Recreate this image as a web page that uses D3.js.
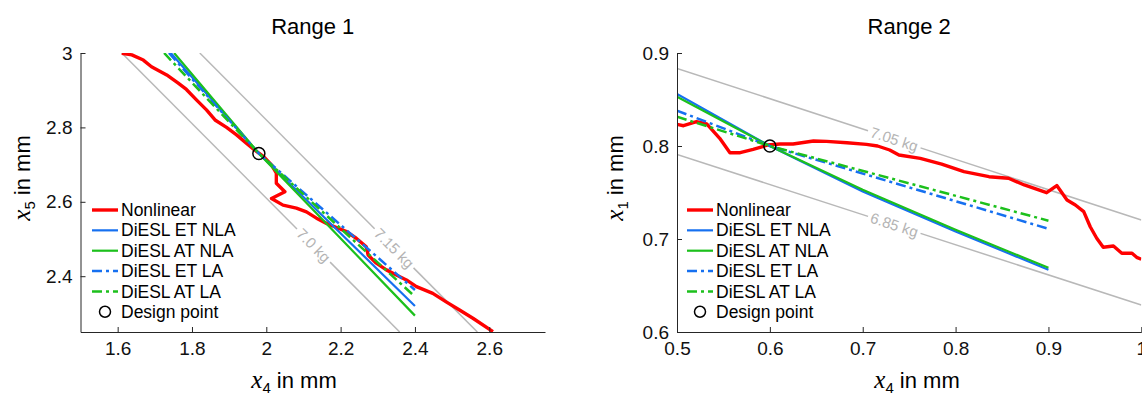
<!DOCTYPE html>
<html>
<head>
<meta charset="utf-8">
<script src="https://cdn.jsdelivr.net/npm/d3@7"></script>
<style>
body { margin: 0; background: #fff; }
svg { display: block; font-family: "Liberation Sans", Arial, sans-serif; }
</style>
</head>
<body>
<svg id="chart" width="1142" height="396"></svg>
<script>
const seriesNames = ["Nonlinear", "DiESL ET NLA", "DiESL AT NLA", "DiESL ET LA", "DiESL AT LA"];
const seriesColors = ["#ff0000", "#1670f0", "#1cc01c", "#1670f0", "#1cc01c"];
const seriesWidths = [3.4, 2.2, 2.2, 2.5, 2.5];
const seriesDash = [null, null, null, "10,4,3,4", "10,4,3,4"];

// Range 1: x4 vs x5
const r1Nonlinear = [[1.611,2.999],[1.638,2.995],[1.669,2.981],[1.691,2.963],[1.732,2.941],[1.763,2.919],[1.785,2.902],[1.812,2.874],[1.839,2.847],[1.862,2.820],[1.893,2.800],[1.920,2.780],[1.947,2.757],[1.969,2.739],[1.991,2.723],[2.014,2.699],[2.027,2.677],[2.027,2.650],[2.050,2.627],[2.014,2.609],[2.045,2.591],[2.081,2.583],[2.108,2.573],[2.135,2.556],[2.162,2.542],[2.189,2.531],[2.216,2.520],[2.242,2.502],[2.269,2.479],[2.274,2.457],[2.296,2.435],[2.323,2.417],[2.350,2.403],[2.377,2.390],[2.404,2.372],[2.448,2.354],[2.484,2.331],[2.520,2.309],[2.556,2.287],[2.610,2.251]];
const r1EtNla = [[1.743,3.0],[1.98,2.73],[2.40,2.32]];
const r1AtNla = [[1.752,3.0],[1.98,2.73],[2.40,2.294]];
const r1EtLa = [[1.738,3.0],[1.98,2.73],[2.40,2.363]];
const r1AtLa = [[1.725,3.0],[1.98,2.73],[2.40,2.345]];
const r1Design = [1.98, 2.73];
const r1Mass = [
	{label: "7.0 kg", from: [1.611,3.0], to: [2.359,2.25], at: 0.69},
	{label: "7.15 kg", from: [1.821,3.0], to: [2.568,2.25], at: 0.70}
];
const r1XTicks = [1.6, 1.8, 2, 2.2, 2.4, 2.6];
const r1YTicks = [2.4, 2.6, 2.8, 3];

// Range 2: x4 vs x1
const r2Nonlinear = [[0.500,0.8233],[0.507,0.8218],[0.521,0.8261],[0.532,0.8237],[0.546,0.8083],[0.557,0.7928],[0.568,0.7928],[0.582,0.7964],[0.598,0.8011],[0.611,0.8022],[0.625,0.8022],[0.647,0.8054],[0.661,0.8050],[0.683,0.8035],[0.704,0.8018],[0.716,0.8000],[0.729,0.7957],[0.739,0.7903],[0.762,0.7867],[0.785,0.7806],[0.809,0.7724],[0.836,0.7670],[0.857,0.7653],[0.874,0.7581],[0.898,0.7498],[0.909,0.7575],[0.920,0.7419],[0.929,0.7366],[0.938,0.7294],[0.945,0.7132],[0.952,0.7008],[0.959,0.6911],[0.970,0.6925],[0.979,0.6846],[0.990,0.6846],[0.995,0.6803],[1.000,0.6782]];
const r2EtNla = [[0.5,0.856],[0.6,0.8],[0.7,0.751],[0.8,0.708],[0.9,0.667]];
const r2AtNla = [[0.5,0.853],[0.6,0.8],[0.7,0.753],[0.8,0.710],[0.9,0.669]];
const r2EtLa = [[0.5,0.838],[0.6,0.8],[0.9,0.711]];
const r2AtLa = [[0.5,0.8315],[0.6,0.8],[0.9,0.7197]];
const r2Design = [0.6, 0.8];
const r2Mass = [
	{label: "7.05 kg", from: [0.5,0.8835], to: [1.0,0.7204], at: 0.468},
	{label: "6.85 kg", from: [0.5,0.791], to: [1.0,0.629], at: 0.468}
];
const r2XTicks = [0.5, 0.6, 0.7, 0.8, 0.9, 1];
const r2YTicks = [0.6, 0.7, 0.8, 0.9];

const panels = [
	{id: "p1", title: "Range 1", left: 80.5, right: 545, top: 53, bottom: 332,
	 xDomain: [1.5, 2.75], yDomain: [2.25, 3.0], xTicks: r1XTicks, yTicks: r1YTicks,
	 xSub: "4", ySub: "5", xLabelX: 294, yLabelX: 30,
	 series: [r1Nonlinear, r1EtNla, r1AtNla, r1EtLa, r1AtLa], design: r1Design, mass: r1Mass,
	 legendX: 92},
	{id: "p2", title: "Range 2", left: 677, right: 1141.3, top: 53, bottom: 332,
	 xDomain: [0.5, 1.0], yDomain: [0.6, 0.9], xTicks: r2XTicks, yTicks: r2YTicks,
	 xSub: "4", ySub: "1", xLabelX: 917, yLabelX: 623,
	 series: [r2Nonlinear, r2EtNla, r2AtNla, r2EtLa, r2AtLa], design: r2Design, mass: r2Mass,
	 legendX: 687}
];

const svg = d3.select("#chart");
const axisColor = "#262626";

panels.forEach(p => {
	const x = d3.scaleLinear(p.xDomain, [p.left, p.right]);
	const y = d3.scaleLinear(p.yDomain, [p.bottom, p.top]);
	const g = svg.append("g");

	g.append("clipPath").attr("id", "clip-" + p.id)
		.append("rect")
		.attr("x", p.left).attr("y", p.top)
		.attr("width", p.right - p.left).attr("height", p.bottom - p.top);

	const plot = g.append("g").attr("clip-path", `url(#clip-${p.id})`);

	// iso-mass lines with inline labels
	p.mass.forEach(m => {
		const x0 = x(m.from[0]), y0 = y(m.from[1]);
		const x1 = x(m.to[0]), y1 = y(m.to[1]);
		const len = Math.hypot(x1 - x0, y1 - y0);
		const ux = (x1 - x0) / len, uy = (y1 - y0) / len;
		const cx = x0 + m.at * (x1 - x0), cy = y0 + m.at * (y1 - y0);
		const angle = Math.atan2(y1 - y0, x1 - x0) * 180 / Math.PI;
		const t = plot.append("text")
			.attr("transform", `translate(${cx},${cy}) rotate(${angle})`)
			.attr("text-anchor", "middle")
			.attr("dy", "0.35em")
			.attr("fill", "#b4b4b4")
			.attr("font-size", 15)
			.text(m.label);
		const half = t.node().getComputedTextLength() / 2 + 3;
		[[x0, y0, cx - ux * half, cy - uy * half], [cx + ux * half, cy + uy * half, x1, y1]].forEach(s => {
			plot.append("line")
				.attr("x1", s[0]).attr("y1", s[1]).attr("x2", s[2]).attr("y2", s[3])
				.attr("stroke", "#b8b8b8").attr("stroke-width", 1.5);
		});
	});

	const line = d3.line().x(d => x(d[0])).y(d => y(d[1]));
	p.series.forEach((s, i) => {
		plot.append("path")
			.datum(s)
			.attr("d", line)
			.attr("fill", "none")
			.attr("stroke", seriesColors[i])
			.attr("stroke-width", seriesWidths[i])
			.attr("stroke-linejoin", "round")
			.attr("stroke-dasharray", seriesDash[i]);
	});

	plot.append("circle")
		.attr("cx", x(p.design[0])).attr("cy", y(p.design[1]))
		.attr("r", 6)
		.attr("fill", "none").attr("stroke", "#000").attr("stroke-width", 1.5);

	// axes, ticks pointing inward
	const xAxis = g.append("g")
		.attr("transform", `translate(0,${p.bottom})`)
		.call(d3.axisBottom(x).tickValues(p.xTicks).tickFormat(d3.format("")).tickSizeInner(-5).tickSizeOuter(0).tickPadding(10));
	const yAxis = g.append("g")
		.attr("transform", `translate(${p.left},0)`)
		.call(d3.axisLeft(y).tickValues(p.yTicks).tickFormat(d3.format("")).tickSizeInner(-5).tickSizeOuter(0).tickPadding(8));
	[xAxis, yAxis].forEach(a => {
		a.attr("font-family", null).attr("font-size", 19);
		a.select(".domain").attr("stroke", axisColor);
		a.selectAll(".tick line").attr("stroke", axisColor);
		a.selectAll(".tick text").attr("fill", "#111");
	});

	g.append("text")
		.attr("x", (p.left + p.right) / 2).attr("y", 34)
		.attr("text-anchor", "middle")
		.attr("font-size", 22)
		.text(p.title);

	const addLabel = (sel, sub) => {
		sel.append("tspan").attr("font-family", "'Liberation Serif', 'DejaVu Serif', serif")
			.attr("font-style", "italic").attr("font-size", 25).text("x");
		sel.append("tspan").attr("font-size", 15).attr("dy", 5).text(sub);
		sel.append("tspan").attr("dy", -5).text(" in mm");
	};
	addLabel(g.append("text")
		.attr("x", p.xLabelX).attr("y", 388)
		.attr("text-anchor", "middle").attr("font-size", 22), p.xSub);
	addLabel(g.append("text")
		.attr("transform", `translate(${p.yLabelX},178) rotate(-90)`)
		.attr("text-anchor", "middle").attr("font-size", 22), p.ySub);

	// legend
	const rowGap = 20.35;
	seriesNames.concat(["Design point"]).forEach((name, i) => {
		const ry = 210 + i * rowGap;
		if (i < seriesNames.length) {
			g.append("line")
				.attr("x1", p.legendX).attr("x2", p.legendX + 26)
				.attr("y1", ry).attr("y2", ry)
				.attr("stroke", seriesColors[i])
				.attr("stroke-width", seriesWidths[i])
				.attr("stroke-dasharray", seriesDash[i]);
		} else {
			g.append("circle")
				.attr("cx", p.legendX + 13).attr("cy", ry).attr("r", 5.5)
				.attr("fill", "none").attr("stroke", "#000").attr("stroke-width", 1.5);
		}
		g.append("text")
			.attr("x", p.legendX + 29).attr("y", ry)
			.attr("dy", "0.35em")
			.attr("font-size", 17.5)
			.text(name);
	});
});
</script>
</body>
</html>
